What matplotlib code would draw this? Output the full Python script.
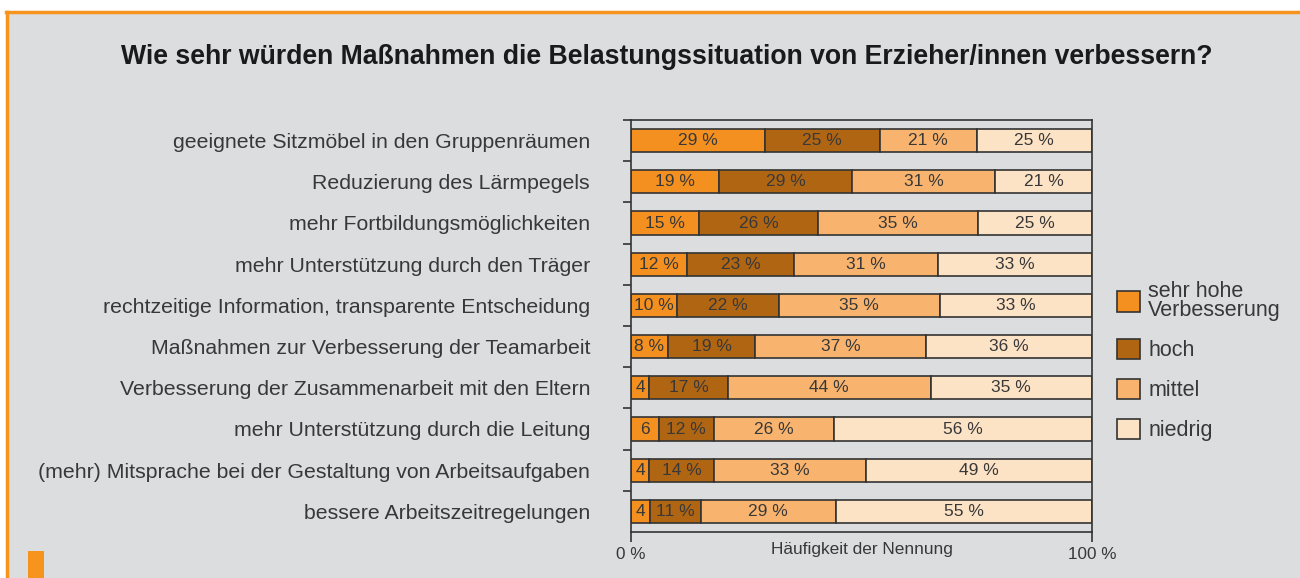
import matplotlib
matplotlib.use("Agg")
import matplotlib.pyplot as plt
from matplotlib.patches import Rectangle
from matplotlib.lines import Line2D

plt.rcParams['font.family'] = ['Liberation Sans', 'DejaVu Sans']

title = "Wie sehr würden Maßnahmen die Belastungssituation von Erzieher/innen verbessern?"
categories = [
    "geeignete Sitzmöbel in den Gruppenräumen",
    "Reduzierung des Lärmpegels",
    "mehr Fortbildungsmöglichkeiten",
    "mehr Unterstützung durch den Träger",
    "rechtzeitige Information, transparente Entscheidung",
    "Maßnahmen zur Verbesserung der Teamarbeit",
    "Verbesserung der Zusammenarbeit mit den Eltern",
    "mehr Unterstützung durch die Leitung",
    "(mehr) Mitsprache bei der Gestaltung von Arbeitsaufgaben",
    "bessere Arbeitszeitregelungen",
]
series_names = ["sehr hohe\nVerbesserung", "hoch", "mittel", "niedrig"]
sehr_hoch = [29, 19, 15, 12, 10, 8, 4, 6, 4, 4]
hoch = [25, 29, 26, 23, 22, 19, 17, 12, 14, 11]
mittel = [21, 31, 35, 31, 35, 37, 44, 26, 33, 29]
niedrig = [25, 21, 25, 33, 33, 36, 35, 56, 49, 55]
# small segments are labelled without the % sign
short_labels = {4: "4", 6: "6"}

colors = ["#f39020", "#b06513", "#f8b46e", "#fde3c6"]
bg = "#dcdddf"
orange = "#f7941d"
txt = "#383838"
edge = "#333333"

fig = plt.figure(figsize=(13, 5.78), dpi=100)
fig.patch.set_facecolor("white")
fig.patches.append(Rectangle((7 / 1300, 0), 1, 1 - 12 / 578, transform=fig.transFigure,
                             facecolor=bg, edgecolor="none", zorder=-5))
fig.lines.append(Line2D([6 / 1300, 1], [1 - 11.5 / 578] * 2, transform=fig.transFigure,
                        color=orange, lw=2.5, zorder=-4))
fig.lines.append(Line2D([6.5 / 1300] * 2, [0, 1 - 11.5 / 578], transform=fig.transFigure,
                        color=orange, lw=2.5, zorder=-4))
fig.patches.append(Rectangle((28 / 1300, 0), 16 / 1300, 27 / 578, transform=fig.transFigure,
                             facecolor=orange, edgecolor="none", zorder=-4))

fig.text(667 / 1300, 1 - 57 / 578, title, ha="center", va="center",
         fontsize=19.2, fontweight="bold", color="#1a1a1a")

ax = fig.add_axes([631 / 1300, 1 - 532 / 578, 461 / 1300, 412 / 578])
ax.set_facecolor(bg)

y = list(range(len(categories)))
series = [sehr_hoch, hoch, mittel, niedrig]
# rounded percentages don't always add to 100, stretch each row to the full width
totals = [sum(s[i] for s in series) for i in y]
left = [0] * len(categories)
for name, vals, col in zip(series_names, series, colors):
    widths = [v * 100 / t for v, t in zip(vals, totals)]
    ax.barh(y, widths, left=left, height=0.56, color=col, edgecolor=edge,
            linewidth=1.2, label=name)
    for yi, l, w, v in zip(y, left, widths, vals):
        lab = short_labels.get(v, f"{v} %")
        ax.text(l + w / 2, yi, lab, ha="center", va="center", fontsize=12.5, color=txt)
    left = [a + b for a, b in zip(left, widths)]

ax.set_xlim(0, 100)
ax.set_ylim(len(categories) - 0.5, -0.5)
ax.set_yticks([i + 0.5 for i in range(len(categories) - 1)] + [-0.5])
ax.set_yticklabels([])
ax.set_yticks(y, minor=True)
ax.set_yticklabels(categories, minor=True, fontsize=15.3, color=txt)
ax.tick_params(axis="y", which="major", direction="out", length=6, width=1.2, color=edge)
ax.tick_params(axis="y", which="minor", length=0, pad=29.5)
ax.set_xticks([0, 100])
ax.set_xticklabels(["0 %", "100 %"], fontsize=12.3, color=txt)
ax.tick_params(axis="x", direction="out", length=7, width=1.2, color=edge, pad=4)
for s in ax.spines.values():
    s.set_color(edge)
    s.set_linewidth(1.2)
ax.text(0.5, -0.025, "Häufigkeit der Nennung", transform=ax.transAxes, ha="center",
        va="top", fontsize=12.4, color=txt)

leg = ax.legend(loc="upper left", bbox_to_anchor=(1.036, 0.631), frameon=False,
                fontsize=15.5, handlelength=1.07, handleheight=1.07, handletextpad=0.37,
                labelspacing=0.82, borderaxespad=0)
for t in leg.get_texts():
    t.set_color(txt)
    t.set_linespacing(0.9)

fig.savefig("out.png", dpi=100, facecolor=fig.get_facecolor())
